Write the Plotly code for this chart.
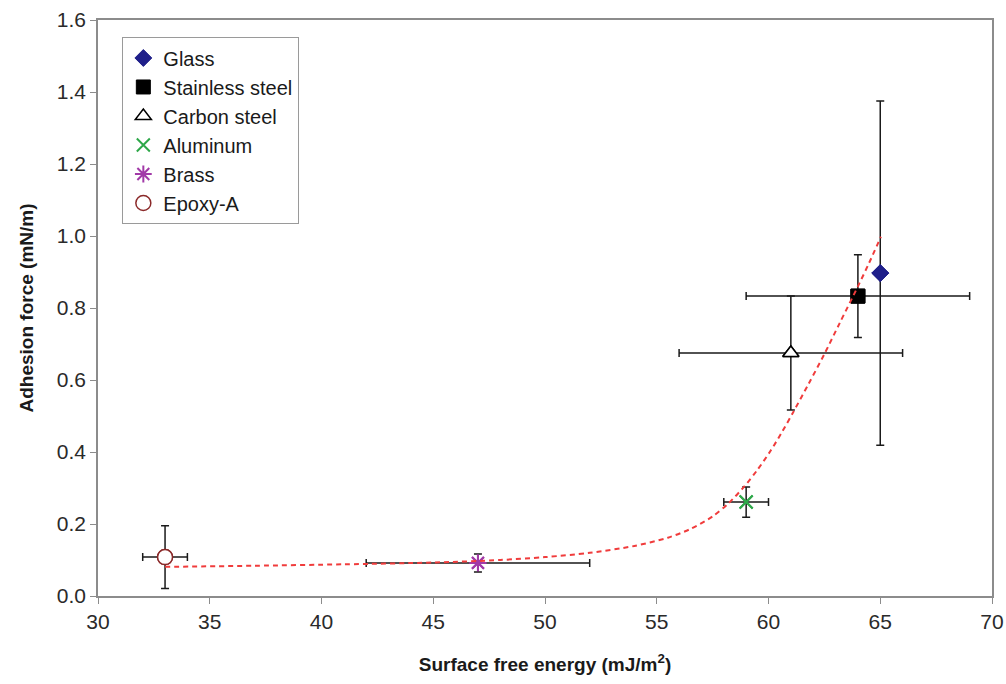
import plotly.graph_objects as go

# Measured materials: surface free energy (mJ/m2) vs adhesion force (mN/m)
materials = ["Glass", "Stainless steel", "Carbon steel", "Aluminum", "Brass", "Epoxy-A"]
energy = [65, 64, 61, 59, 47, 33]
energy_err = [0, 5, 5, 1, 5, 1]
force = [0.897, 0.833, 0.675, 0.261, 0.092, 0.108]
force_err = [0.478, 0.115, 0.158, 0.042, 0.025, 0.087]

# Points
trend_x = [33, 37, 41, 45, 48, 50, 52, 54, 55.5, 56.5, 57.5, 58.2, 58.9, 59.5,
           60.1, 60.6, 61.1, 61.8, 62.5, 63.2, 64.0, 64.5, 65.03]
trend_y = [0.081, 0.084, 0.088, 0.093, 0.100, 0.108, 0.120, 0.139, 0.162, 0.186, 0.221,
           0.257, 0.303, 0.350, 0.404, 0.455, 0.510, 0.590, 0.672, 0.760, 0.860, 0.925, 0.998]

x_ticks = [30, 35, 40, 45, 50, 55, 60, 65, 70]
y_ticks = [0.0, 0.2, 0.4, 0.6, 0.8, 1.0, 1.2, 1.4, 1.6]

styles = {
    "Glass": dict(symbol="diamond", size=13, color="#1f1f8a", line=dict(color="#1f1f8a", width=1)),
    "Stainless steel": dict(symbol="square", size=14, color="#000000", line=dict(color="#000000", width=1)),
    "Carbon steel": dict(symbol="triangle-up", size=14, color="#ffffff", line=dict(color="#000000", width=1.5)),
    "Aluminum": dict(symbol="x-thin", size=13, color="#2fa84a", line=dict(color="#2fa84a", width=2)),
    "Brass": dict(symbol="asterisk", size=14, color="#a23aa8", line=dict(color="#a23aa8", width=2)),
    "Epoxy-A": dict(symbol="circle", size=15, color="#ffffff", line=dict(color="#8b2a2a", width=1.5)),
}

font_family = "Liberation Sans, Arial, sans-serif"

fig = go.Figure()

for i, name in enumerate(materials):
    fig.add_trace(go.Scatter(
        x=[energy[i]], y=[force[i]], mode="markers", name=name, legendgroup=name,
        marker=styles[name],
        error_x=dict(type="data", array=[energy_err[i]], visible=energy_err[i] > 0,
                     color="#1a1a1a", thickness=1.5, width=4),
        error_y=dict(type="data", array=[force_err[i]], visible=True,
                     color="#1a1a1a", thickness=1.5, width=4),
    ))

# Re-draw markers over the error bars so they sit on top
for i, name in enumerate(materials):
    fig.add_trace(go.Scatter(
        x=[energy[i]], y=[force[i]], mode="markers", marker=styles[name],
        showlegend=False, hoverinfo="skip",
    ))

fig.add_trace(go.Scatter(
    x=trend_x, y=trend_y, mode="lines", showlegend=False,
    line=dict(color="#f03c3c", width=2, dash="5px,4px", shape="spline", smoothing=0.8),
))

axis_common = dict(
    showgrid=False, zeroline=False, showline=True, linecolor="#8c8c8c", linewidth=1.5,
    mirror=True, ticks="outside", ticklen=6, tickcolor="#8c8c8c", tickwidth=1.2,
    automargin=False,
    tickfont=dict(family=font_family, size=21, color="#2a2a2a"),
)

fig.update_xaxes(
    range=[30, 70], tickvals=x_ticks, ticktext=[str(v) for v in x_ticks],
    title=dict(text="<b>Surface free energy (mJ/m<sup>2</sup>)</b>",
               font=dict(family=font_family, size=19, color="#1a1a1a"), standoff=26),
    **axis_common,
)
fig.update_yaxes(
    range=[0, 1.6], tickvals=y_ticks, ticktext=[f"{v:.1f}" for v in y_ticks],
    title=dict(text="<b>Adhesion force (mN/m)</b>",
               font=dict(family=font_family, size=19, color="#1a1a1a"), standoff=18),
    **axis_common,
)

fig.update_layout(
    width=1006, height=684,
    margin=dict(l=98, r=14, t=20, b=88),
    paper_bgcolor="#ffffff", plot_bgcolor="#ffffff",
    font=dict(family=font_family, color="#1a1a1a"),
    legend=dict(
        x=0.027, y=0.970, xanchor="left", yanchor="top",
        bordercolor="#9a9a9a", borderwidth=1.2, bgcolor="#ffffff",
        font=dict(family=font_family, size=20, color="#1a1a1a"),
        itemwidth=30, tracegroupgap=0,
    ),
    showlegend=True,
)

fig.write_html("out.html")
